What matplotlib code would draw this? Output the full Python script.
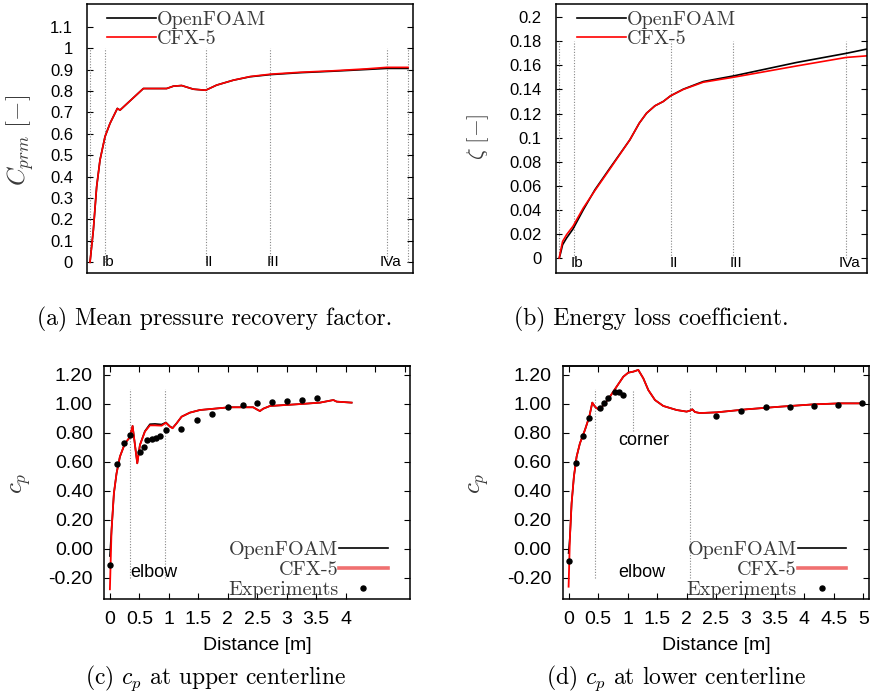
import matplotlib.pyplot as plt
from matplotlib.lines import Line2D
from matplotlib.font_manager import FontProperties

plt.rcParams['mathtext.fontset'] = 'cm'
SANS = 'Liberation Sans'
SERIF = 'cmr10'
GREY = '#3a3a3a'

# ---- sections (a), (b) ----
sec_x = [0.0, 0.3, 2.32, 3.6, 5.94, 6.36]
sec_names = ["", "Ib", "II", "III", "IVa", ""]

# (a) mean pressure recovery factor
a_x = [0, 0.067, 0.133, 0.2, 0.3, 0.4, 0.547, 0.6, 1.067, 1.533, 1.667, 1.833,
       2.067, 2.313, 2.533, 2.867, 3.2, 3.607, 4.2, 4.867, 5.533, 5.933, 6.36]
a_of = [0, 0.151, 0.353, 0.478, 0.587, 0.649, 0.719, 0.711, 0.812, 0.812, 0.823, 0.826,
        0.809, 0.804, 0.828, 0.851, 0.867, 0.877, 0.886, 0.893, 0.901, 0.906, 0.906]
a_cfx = [0, 0.151, 0.353, 0.478, 0.587, 0.649, 0.719, 0.711, 0.812, 0.812, 0.823, 0.826,
         0.809, 0.804, 0.828, 0.851, 0.868, 0.879, 0.888, 0.895, 0.904, 0.911, 0.911]
a_yticks = [0, 0.1, 0.2, 0.3, 0.4, 0.5, 0.6, 0.7, 0.8, 0.9, 1.0, 1.1]
a_ylabels = ["0", "0.1", "0.2", "0.3", "0.4", "0.5", "0.6", "0.7", "0.8", "0.9", "1", "1.1"]

# (b) energy loss coefficient
b_x = [0, 0.028, 0.069, 0.152, 0.283, 0.497, 0.738, 1.049, 1.462, 1.656, 1.807,
       1.98, 2.152, 2.304, 2.566, 2.98, 3.615, 4.91, 5.94, 6.36]
b_of = [0, 0.0041, 0.011, 0.0166, 0.024, 0.040, 0.0567, 0.0747, 0.0982, 0.112, 0.1203,
        0.1264, 0.130, 0.1347, 0.1402, 0.1466, 0.1513, 0.1624, 0.170, 0.1735]
b_cfx = [0, 0.006, 0.0138, 0.0194, 0.0263, 0.0415, 0.0560, 0.0740, 0.0982, 0.112, 0.1203,
         0.1264, 0.130, 0.1347, 0.1400, 0.1460, 0.1502, 0.1595, 0.1666, 0.1679]
b_yticks = [0, 0.02, 0.04, 0.06, 0.08, 0.1, 0.12, 0.14, 0.16, 0.18, 0.2]
b_ylabels = ["0", "0.02", "0.04", "0.06", "0.08", "0.1", "0.12", "0.14", "0.16", "0.18", "0.2"]

# (c) cp at upper centerline
c_x = [0, 0.028, 0.068, 0.113, 0.17, 0.255, 0.339, 0.385, 0.464, 0.509, 0.594, 0.679,
       0.764, 0.877, 0.95, 1.018, 1.063, 1.131, 1.216, 1.357, 1.527, 2.025, 2.43, 2.489,
       2.545, 2.6, 2.715, 3.224, 3.563, 3.79, 3.846, 4.1]
c_of = [-0.05, 0.129, 0.383, 0.521, 0.636, 0.728, 0.77, 0.848, 0.59, 0.716, 0.812, 0.860,
        0.862, 0.858, 0.872, 0.845, 0.834, 0.866, 0.912, 0.94, 0.958, 0.977, 0.977, 0.963,
        0.951, 0.967, 0.986, 0.999, 1.009, 1.027, 1.016, 1.009]
c_cfx = [-0.28, 0.129, 0.383, 0.521, 0.636, 0.728, 0.77, 0.848, 0.59, 0.716, 0.809, 0.852,
         0.852, 0.850, 0.870, 0.843, 0.832, 0.866, 0.912, 0.94, 0.958, 0.977, 0.977, 0.963,
         0.951, 0.967, 0.986, 0.999, 1.009, 1.027, 1.016, 1.009]
c_exp_x = [0, 0.124, 0.238, 0.339, 0.503, 0.571, 0.633, 0.707, 0.775, 0.848, 0.945,
           1.199, 1.471, 1.731, 1.997, 2.262, 2.489, 2.743, 2.998, 3.252, 3.507]
c_exp = [-0.112, 0.583, 0.73, 0.783, 0.666, 0.705, 0.753, 0.758, 0.763, 0.779, 0.82,
         0.829, 0.887, 0.931, 0.981, 0.995, 1.009, 1.013, 1.018, 1.03, 1.043]
c_marks = [0.34, 0.93]

# (d) cp at lower centerline
d_x = [0, 0.023, 0.051, 0.09, 0.136, 0.192, 0.277, 0.351, 0.402, 0.447, 0.503, 0.543,
       0.617, 0.701, 0.814, 0.928, 1.012, 1.097, 1.182, 1.267, 1.352, 1.465, 1.606, 1.833,
       2.002, 2.059, 2.098, 2.144, 2.229, 2.511, 3.02, 3.586, 4.152, 4.604, 5.0]
d_of = [-0.03, 0.083, 0.314, 0.498, 0.636, 0.728, 0.82, 0.912, 1.009, 0.981, 0.963, 0.97,
        1.004, 1.05, 1.119, 1.188, 1.216, 1.223, 1.235, 1.177, 1.096, 1.027, 0.986, 0.958,
        0.947, 0.954, 0.963, 0.944, 0.937, 0.942, 0.963, 0.981, 0.997, 1.004, 1.004]
d_cfx = [-0.262, 0.083, 0.314, 0.498, 0.636, 0.728, 0.82, 0.912, 1.009, 0.981, 0.963, 0.97,
         1.004, 1.05, 1.119, 1.188, 1.216, 1.223, 1.235, 1.177, 1.096, 1.027, 0.986, 0.958,
         0.947, 0.954, 0.963, 0.944, 0.937, 0.942, 0.963, 0.981, 0.997, 1.004, 1.004]
d_exp_x = [0, 0.124, 0.238, 0.351, 0.537, 0.605, 0.673, 0.792, 0.86, 0.928,
           2.494, 2.924, 3.348, 3.756, 4.169, 4.576, 4.977]
d_exp = [-0.083, 0.59, 0.779, 0.905, 0.97, 1.004, 1.039, 1.083, 1.083, 1.062,
         0.917, 0.949, 0.979, 0.979, 0.988, 0.99, 1.004]
d_marks = [0.444, 2.06]
d_corner = 1.087

cp_yticks = [-0.2, 0, 0.2, 0.4, 0.6, 0.8, 1.0, 1.2]
cp_ylabels = ["-0.20", "0.00", "0.20", "0.40", "0.60", "0.80", "1.00", "1.20"]
c_xticks = [0, 0.5, 1, 1.5, 2, 2.5, 3, 3.5, 4]
d_xticks = [0, 0.5, 1, 1.5, 2, 2.5, 3, 3.5, 4, 4.5, 5]
x_labels = ["0", "0.5", "1", "1.5", "2", "2.5", "3", "3.5", "4", "4.5", "5"]

W, H = 871, 693
fig = plt.figure(figsize=(W / 100, H / 100), dpi=100)


def box(l, t, r, b):
    return [l / W, 1 - b / H, (r - l) / W, (b - t) / H]


def frame(ax):
    for s in ax.spines.values():
        s.set_linewidth(1.1)


leg_font = FontProperties(family=SERIF, size=14.5)

# ----- (a) and (b) -----
top_panels = [
    (box(87, 4, 413, 273), a_x, a_of, a_cfx, (-0.06, 6.46), (-0.05, 1.207),
     a_yticks, a_ylabels, 1.0, 0.0, (0.062, 0.975)),
    (box(555.7, 4, 867, 273), b_x, b_of, b_cfx, (-0.074, 6.37), (-0.0125, 0.211),
     b_yticks, b_ylabels, 0.18, -0.004, (0.069, 0.975)),
]
for pos, x, yo, yc, xl, yl, yt, ytl, vtop, lab_y, leg_at in top_panels:
    ax = fig.add_axes(pos)
    ax.vlines(sec_x, 0, vtop, colors='#888888', linestyles=(0, (1, 1.5)), linewidth=0.8)
    for sx, name in zip(sec_x, sec_names):
        ax.text(sx + 0.06, lab_y, name, ha='center', va='center', fontsize=11, family=SANS)
    ax.plot(x, yo, color='black', lw=1.2, label='OpenFOAM')
    ax.plot(x, yc, color='red', lw=1.2, label='CFX-5')
    ax.set_xlim(*xl)
    ax.set_ylim(*yl)
    ax.set_xticks([])
    ax.set_yticks(yt)
    ax.set_yticklabels(ytl, family=SANS, fontsize=12)
    ax.tick_params(axis='y', direction='in', left=True, right=True, length=4, pad=10)
    frame(ax)
    ax.legend(loc='upper left', bbox_to_anchor=leg_at, frameon=False, prop=leg_font,
              labelcolor=GREY, handlelength=2.4, handletextpad=0.05, labelspacing=0.05,
              borderpad=0, borderaxespad=0)

# ----- (c) and (d) -----
bottom_panels = [
    (box(104, 366, 410, 598.7), c_x, c_of, c_cfx, c_exp_x, c_exp, (-0.1, 5.09),
     c_xticks, c_marks, [(0.34, -0.165, 'elbow')], 0.927),
    (box(562.7, 366, 869.3, 598.7), d_x, d_of, d_cfx, d_exp_x, d_exp, (-0.1, 5.1),
     d_xticks, d_marks, [(0.85, -0.165, 'elbow'), (0.85, 0.746, 'corner')], 0.925),
]
for pos, x, yo, yc, ex, ey, xl, xt, marks, notes, leg_r in bottom_panels:
    ax = fig.add_axes(pos)
    ax.vlines(marks, -0.2, 1.1, colors='#888888', linestyles=(0, (1, 1.5)), linewidth=0.8)
    if len(notes) > 1:
        ax.vlines([d_corner], 0.81, 1.09, colors='#888888', linestyles=(0, (1, 1.5)),
                  linewidth=0.8)
    for nx, ny, s in notes:
        ax.text(nx, ny, s, ha='left', va='center', fontsize=13, family=SANS)
    ax.plot(x, yo, color='black', lw=1.2)
    ax.plot(x, yc, color='red', lw=1.3)
    ax.plot(ex, ey, ls='none', marker='o', ms=3.6, color='black')
    ax.set_xlim(*xl)
    ax.set_ylim(-0.345, 1.262)
    ax.set_xticks(xt)
    ax.set_xticklabels(x_labels[:len(xt)], family=SANS, fontsize=14)
    ax.set_yticks(cp_yticks)
    ax.set_yticklabels(cp_ylabels, family=SANS, fontsize=14)
    ax.tick_params(axis='y', direction='in', left=True, right=True, length=4, pad=8)
    ax.tick_params(axis='x', direction='in', bottom=True, length=4, pad=9)
    top = ax.secondary_xaxis('top')
    top.set_xticks(d_xticks)
    top.tick_params(direction='in', length=4, labeltop=False)
    top.spines['top'].set_linewidth(1.1)
    frame(ax)
    handles = [Line2D([], [], color='black', lw=1.2),
               Line2D([], [], color='#f07070', lw=2.6),
               Line2D([], [], ls='none', marker='o', ms=3.6, color='black')]
    ax.legend(handles, ['OpenFOAM', 'CFX-5', 'Experiments'], loc='lower right',
              bbox_to_anchor=(leg_r, 0.0), frameon=False, prop=leg_font, labelcolor=GREY,
              markerfirst=False, handlelength=2.4, handletextpad=0.05, labelspacing=0.08,
              borderpad=0, borderaxespad=0)


def ftext(px, py, s, **kw):
    fig.text(px / W, 1 - py / H, s, ha='center', va='center', **kw)


ftext(20, 140, r'$C_{prm}\ [-]$', rotation=90, fontsize=18, color=GREY)
ftext(478, 137, r'$\zeta\ [-]$', rotation=90, fontsize=16.5, color=GREY)
ftext(21, 483, r'$c_p$', rotation=90, fontsize=18, color=GREY)
ftext(479, 483, r'$c_p$', rotation=90, fontsize=18, color=GREY)
ftext(257, 646, 'Distance [m]', family=SANS, fontsize=14)
ftext(716, 646, 'Distance [m]', family=SANS, fontsize=14)

ftext(215, 319, '(a) Mean pressure recovery factor.', family=SERIF, fontsize=17)
ftext(651, 319, '(b) Energy loss coefficient.', family=SERIF, fontsize=17)
ftext(216, 678, r'(c) $c_p$ at upper centerline', family=SERIF, fontsize=17)
ftext(676, 678, r'(d) $c_p$ at lower centerline', family=SERIF, fontsize=17)

fig.savefig('out.png', dpi=100)
